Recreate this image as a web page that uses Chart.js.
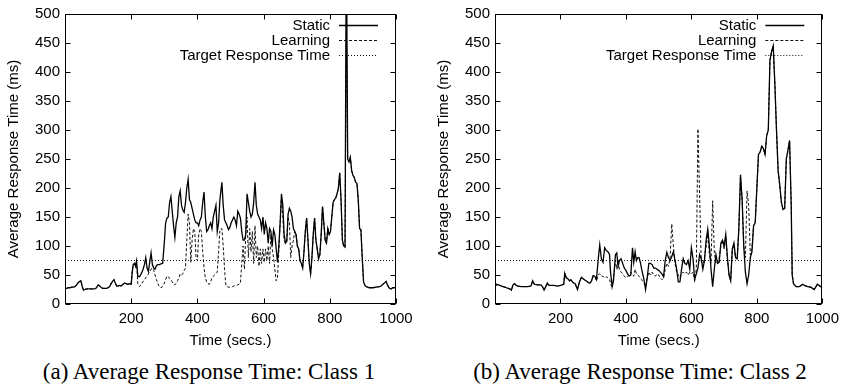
<!DOCTYPE html>
<html>
<head>
<meta charset="utf-8">
<script src="https://cdn.jsdelivr.net/npm/chart.js@4/dist/chart.umd.min.js"></script>
<style>
  html, body { margin: 0; padding: 0; background: #fff; }
  #wrap { position: relative; width: 845px; height: 388px; overflow: hidden; }
  canvas { position: absolute; top: 0; }
  .cap { position: absolute; top: 357px; font-family: 'Liberation Serif', 'Times New Roman', serif; font-size: 23px; line-height: 30px; color: #000; white-space: nowrap; transform: translateX(-50%); }
</style>
</head>
<body>
<div id="wrap">
  <canvas id="c1" width="420" height="350" style="left:0px"></canvas>
  <canvas id="c2" width="425" height="350" style="left:420px"></canvas>
  <div class="cap" id="cap1" style="left:209px"></div>
  <div class="cap" id="cap2" style="left:640px"></div>
</div>
<script>
// ---------------- DATA ----------------
const captions = ['(a) Average Response Time: Class 1', '(b) Average Response Time: Class 2'];
const seriesNames = ['Static', 'Learning', 'Target Response Time'];
const xTickValues = [200, 400, 600, 800, 1000];
const yTickStep = 50;
const targetResponse = 75;

// Class 1
const times1 = [
  0,5,10,15,20,25,30,35,40,45,
  48,52,56,60,65,70,75,80,85,90,
  95,100,105,110,115,120,125,130,135,140,
  145,148,152,156,160,165,170,175,180,185,
  190,195,200,203,206,210,213,216,220,225,
  230,235,240,244,248,252,256,260,264,268,
  272,276,280,285,290,295,300,304,308,312,
  316,320,324,328,332,336,340,344,348,352,
  356,360,364,368,372,376,380,384,388,392,
  396,400,404,408,412,416,420,424,428,432,
  436,440,444,448,452,456,460,464,468,474,
  478,482,486,490,494,498,502,506,510,514,
  518,522,526,530,534,538,542,546,550,554,
  558,562,566,570,574,578,582,586,590,594,
  598,602,606,610,614,618,622,626,630,634,
  638,642,646,650,654,658,662,666,670,674,
  678,682,686,690,694,698,702,706,710,714,
  718,722,726,730,734,738,742,746,750,754,
  758,762,766,770,774,778,782,786,790,794,
  798,802,806,810,814,818,822,826,830,834,
  838,842,846,850,854,858,862,866,870,874,
  878,882,886,890,894,898,902,906,910,920,
  930,940,950,955,960,965,970,975,980,985,
  990,1000
];
const static1 = [
  27,27,28,28,29,29,30,33,37,39,
  40,30,24,25,26,26,26,26,26,26,
  28,33,31,28,27,27,27,28,30,36,
  40,42,36,31,31,32,31,34,36,35,
  34,35,34,55,68,70,65,74,48,47,
  52,58,68,80,62,56,72,88,68,62,
  60,66,68,68,69,70,105,140,148,150,
  175,185,160,135,115,140,150,185,195,170,
  162,158,175,200,215,180,175,165,155,145,
  140,140,135,145,150,175,193,150,125,128,
  135,140,130,150,160,170,125,140,180,210,
  170,145,140,135,128,132,140,145,150,145,
  135,160,155,148,125,110,110,120,190,175,
  160,150,155,175,210,170,155,150,145,130,
  150,120,140,130,105,130,125,100,128,120,
  95,72,100,140,190,170,120,105,108,155,
  165,160,150,130,125,120,100,95,75,70,
  62,90,125,148,110,70,52,80,120,148,
  110,95,78,85,120,168,140,110,105,130,
  120,125,150,175,180,183,190,200,226,180,
  110,100,98,650,250,245,253,230,222,218,
  210,208,180,130,128,80,38,32,30,28,
  28,29,30,31,34,36,39,32,27,26,
  28,28
];
const learning1 = [
  27,27,28,28,29,29,30,33,37,39,
  40,30,24,25,26,26,26,26,26,26,
  28,33,31,28,27,27,27,28,30,36,
  40,42,36,31,31,32,31,34,36,35,
  34,35,34,55,68,70,65,74,35,30,
  33,38,42,45,48,52,55,60,62,58,
  50,42,36,30,28,30,36,42,48,47,
  44,42,38,34,33,36,40,45,52,50,
  52,58,62,110,155,140,72,110,130,125,
  78,75,120,130,125,90,62,45,38,35,
  34,38,45,48,50,52,55,90,128,130,
  100,60,32,30,29,29,30,30,31,32,
  32,33,34,36,70,100,60,120,150,80,
  130,90,125,70,135,80,100,65,95,70,
  95,72,95,75,100,70,120,95,80,60,
  40,45,90,140,185,150,110,105,108,150,
  140,80,100,110,125,120,100,95,75,70,
  62,90,125,148,110,70,52,80,120,148,
  110,95,78,85,120,168,140,110,105,130,
  120,125,150,175,180,183,190,200,226,180,
  110,100,98,470,250,245,253,230,222,218,
  210,208,180,130,128,80,38,32,30,28,
  28,29,30,31,34,36,39,32,27,26,
  28,28
];

// Class 2
const times2 = [
  0,5,10,15,20,25,30,35,40,45,
  50,55,60,65,70,80,90,100,110,115,
  120,130,140,145,150,155,160,165,170,180,
  190,200,205,210,213,218,222,228,232,238,
  245,252,258,264,270,278,285,290,295,300,
  305,310,315,320,325,330,335,340,345,350,
  353,358,362,368,372,376,380,385,390,395,
  400,405,410,415,420,424,428,432,436,440,
  444,448,452,456,460,465,470,475,480,485,
  490,495,500,505,510,515,520,525,530,535,
  540,545,550,555,560,565,570,575,580,585,
  590,595,600,605,610,615,620,625,630,635,
  640,645,650,655,660,665,670,675,680,685,
  690,695,700,705,710,715,720,725,730,735,
  740,745,750,755,760,765,770,775,780,785,
  790,795,800,805,810,815,820,825,830,835,
  840,845,850,855,860,865,870,875,880,885,
  890,895,900,905,908,912,920,930,940,945,
  955,965,975,985,995,1000
];
const static2 = [
  30,34,33,32,31,30,29,28,27,26,
  24,33,35,32,31,30,30,30,31,40,
  34,33,33,30,24,30,36,32,32,32,
  31,32,33,34,53,45,44,40,42,37,
  35,25,38,46,43,40,37,36,40,49,
  48,42,75,102,78,72,97,92,90,85,
  55,30,40,85,88,65,75,78,70,62,
  58,52,48,50,97,72,90,75,80,80,
  72,60,50,40,25,45,70,70,68,62,
  62,60,58,55,52,47,75,89,80,75,
  82,90,75,60,38,38,60,78,70,68,
  75,60,97,78,42,52,62,85,78,60,
  75,110,129,100,60,30,60,85,70,72,
  105,110,100,120,80,50,40,95,105,80,
  78,130,223,180,100,55,35,50,80,90,
  135,140,200,258,262,272,268,258,290,300,
  420,435,445,380,300,230,205,175,163,165,
  250,265,282,170,50,35,30,30,34,32,
  30,29,25,34,30,28
];
const learning2 = [
  30,34,33,32,31,30,29,28,27,26,
  24,33,35,32,31,30,30,30,31,40,
  34,33,33,30,24,30,36,32,32,32,
  31,32,33,34,53,45,44,40,42,37,
  35,25,38,46,43,40,37,36,40,49,
  48,40,50,52,48,48,45,47,45,42,
  35,28,45,75,60,75,60,55,52,48,
  45,48,50,55,50,48,60,52,50,48,
  45,42,38,35,30,45,55,50,55,50,
  48,52,50,45,42,45,60,70,65,80,
  138,100,70,55,50,45,52,55,52,55,
  50,55,52,55,40,60,302,190,75,65,
  80,100,120,85,70,178,90,70,70,80,
  100,110,95,115,80,50,40,95,100,80,
  78,130,220,180,100,80,195,170,85,95,
  135,140,200,258,262,272,268,258,290,300,
  420,435,445,380,300,230,205,175,163,165,
  250,265,282,170,50,35,30,30,34,32,
  30,29,25,34,30,28
];

// ---------------- CHART ----------------
const FS = 15;
Chart.defaults.font.family = "'Liberation Sans', Arial, Helvetica, sans-serif";
Chart.defaults.color = '#000';

const frameAndLegend = {
  id: 'frameAndLegend',
  afterDraw(chart) {
    const {ctx, chartArea: a, scales} = chart;
    const L = Math.round(a.left) + 0.5, R = Math.round(a.right) - 0.5;
    const T = Math.round(a.top) + 0.5, B = Math.round(a.bottom) - 0.5;
    ctx.save();
    ctx.strokeStyle = '#000';
    ctx.lineWidth = 1;
    ctx.setLineDash([]);
    ctx.strokeRect(L, T, R - L, B - T);
    const tl = 5;
    ctx.beginPath();
    for (let v = 0; v <= 500; v += yTickStep) {
      const y = Math.round(scales.y.getPixelForValue(v)) + 0.5;
      ctx.moveTo(L, y); ctx.lineTo(L + tl, y);
      ctx.moveTo(R, y); ctx.lineTo(R - tl, y);
    }
    xTickValues.forEach(v => {
      const x = Math.round(scales.x.getPixelForValue(v)) + 0.5;
      ctx.moveTo(x, B); ctx.lineTo(x, B - tl);
      ctx.moveTo(x, T); ctx.lineTo(x, T + tl);
    });
    ctx.stroke();
    // legend
    ctx.font = FS + "px 'Liberation Sans', Arial, sans-serif";
    ctx.textAlign = 'right';
    ctx.textBaseline = 'middle';
    ctx.fillStyle = '#000';
    chart.data.datasets.forEach((ds, i) => {
      const y = Math.round(a.top + 11 + 15 * i) + 0.5;
      ctx.fillText(ds.label, a.right - 66, y);
      ctx.beginPath();
      ctx.setLineDash(ds.borderDash || []);
      ctx.lineWidth = ds.borderWidth;
      ctx.strokeStyle = ds.borderColor;
      ctx.moveTo(a.right - 57, y);
      ctx.lineTo(a.right - 18, y);
      ctx.stroke();
    });
    ctx.restore();
  }
};

function makeChart(id, times, sVals, lVals, yAxisWidth, yTitlePad, rightPad) {
  const pts = (vals) => times.map((t, i) => ({x: t, y: vals[i]}));
  new Chart(document.getElementById(id), {
    type: 'line',
    data: {
      datasets: [
        { label: seriesNames[0], data: pts(sVals), borderColor: '#000', borderWidth: 1.3, pointRadius: 0, tension: 0 },
        { label: seriesNames[1], data: pts(lVals), borderColor: '#111', borderWidth: 1, borderDash: [3, 2], pointRadius: 0, tension: 0 },
        { label: seriesNames[2], data: [{x: 0, y: targetResponse}, {x: 1000, y: targetResponse}], borderColor: '#111', borderWidth: 1, borderDash: [1, 2], pointRadius: 0, tension: 0 }
      ]
    },
    options: {
      responsive: false,
      animation: false,
      devicePixelRatio: 1,
      layout: { padding: { top: 11, right: rightPad, left: 0, bottom: 0 } },
      plugins: { legend: { display: false }, tooltip: { enabled: false } },
      scales: {
        x: {
          type: 'linear', min: 0, max: 1000,
          grid: { display: false, drawTicks: false },
          border: { display: false },
          afterBuildTicks: (s) => { s.ticks = [0].concat(xTickValues).map(v => ({value: v})); },
          ticks: { padding: 6, font: { size: FS }, color: '#000', maxRotation: 0, autoSkip: false,
                   callback: (v) => v === 0 ? '' : String(v) },
          title: { display: true, text: 'Time (secs.)', font: { size: FS }, color: '#000', padding: { top: 0, bottom: 0 } },
          afterFit: (s) => { s.height = 46; }
        },
        y: {
          min: 0, max: 500,
          grid: { display: false, drawTicks: false },
          border: { display: false },
          ticks: { stepSize: yTickStep, padding: 5, font: { size: FS }, color: '#000' },
          title: { display: true, text: 'Average Response Time (ms)', font: { size: FS }, color: '#000', padding: { top: yTitlePad, bottom: 0 } },
          afterFit: (s) => { s.width = yAxisWidth; }
        }
      }
    },
    plugins: [frameAndLegend]
  });
}

makeChart('c1', times1, static1, learning1, 65, 5, 24);
makeChart('c2', times2, static2, learning2, 75, 15, 19);
document.getElementById('cap1').textContent = captions[0];
document.getElementById('cap2').textContent = captions[1];
</script>
</body>
</html>
